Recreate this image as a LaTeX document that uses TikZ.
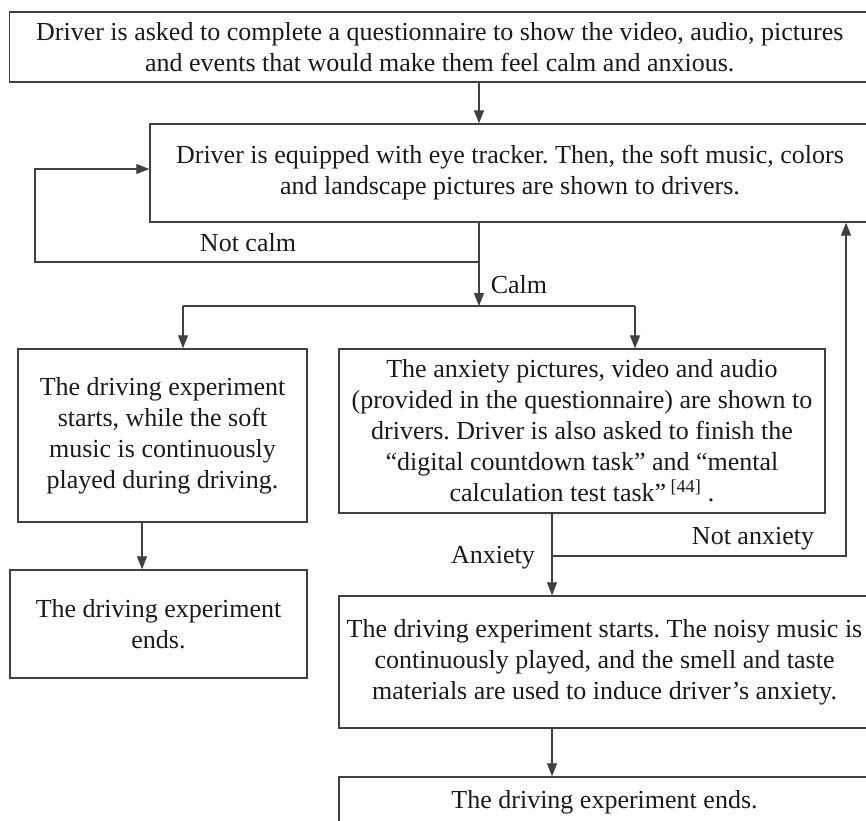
\documentclass[tikz,border=0pt]{standalone}
\usepackage{fontspec}
\setmainfont{Liberation Serif}
\usetikzlibrary{arrows.meta}
\definecolor{linec}{HTML}{404040}
\definecolor{txtc}{HTML}{1A1A1A}
\frenchspacing
\begin{document}
\begin{tikzpicture}[x=1pt,y=-1pt,
  box/.style={draw=linec, line width=1.4pt, align=center, inner sep=0pt, text=txtc, font=\fontsize{26}{31}\selectfont},
  lbl/.style={text=txtc, font=\fontsize{26}{31}\selectfont, inner sep=0pt},
  conn/.style={draw=linec, line width=1.2pt},
  arr/.style={conn, -{Triangle[length=13pt,width=10pt]}}]
\useasboundingbox (0,0) rectangle (866,820);
\clip (0,0) rectangle (866,820);

\node[box, minimum width=860.5, minimum height=70] (q) at (439.75,47)
  {Driver is asked to complete a questionnaire to show the video, audio, pictures\\and events that would make them feel calm and anxious.};
\node[box, minimum width=720, minimum height=98] (eye) at (510,173)
  {Driver is equipped with eye tracker. Then, the soft music, colors\\and landscape pictures are shown to drivers.};
\node[box, minimum width=289, minimum height=173] (soft) at (162.5,435.5)
  {The driving experiment\\starts, while the soft\\music is continuously\\played during driving.};
\node[box, minimum width=486, minimum height=164] (anx) at (582,431)
  {The anxiety pictures, video and audio\\(provided in the questionnaire) are shown to\\drivers. Driver is also asked to finish the\\“digital countdown task” and “mental\\calculation test task”\,\textsuperscript{[44]}\ .};
\node[box, minimum width=297, minimum height=108] (end1) at (158.5,624)
  {The driving experiment\\ends.};
\node[box, minimum width=531, minimum height=132] (noisy) at (604.5,662)
  {The driving experiment starts. The noisy music is\\continuously played, and the smell and taste\\materials are used to induce driver’s anxiety.};
\node[box, minimum width=531, minimum height=50] (end2) at (604.5,802)
  {The driving experiment ends.};

\coordinate (jA) at (479,262);
\coordinate (loopL) at (35,262);
\coordinate (loopT) at (35,169);
\coordinate (br) at (479,306);
\coordinate (brL) at (183,306);
\coordinate (brR) at (635,306);
\coordinate (sx) at (142,546);
\coordinate (jB) at (552,556);
\coordinate (retR) at (846,556);

\draw[arr] (q.south -| jA) -- (eye.north -| jA);
\draw[arr] (eye.south -| jA) -- (jA) -- (loopL) -- (loopT) -- (eye.west |- loopT);
\draw[arr] (jA) -- (br);
\draw[conn] (brL) -- (brR);
\draw[arr] (brL) -- (soft.north -| brL);
\draw[arr] (brR) -- (anx.north -| brR);
\draw[arr] (soft.south -| sx) -- (end1.north -| sx);
\draw[arr] (anx.south -| jB) -- (noisy.north -| jB);
\draw[arr] (jB) -- (retR) -- (eye.south -| retR);
\draw[arr] (noisy.south -| jB) -- (end2.north -| jB);

\node[lbl] (lnc) at (248,243) {Not calm};
\node[lbl] (lc) at (519,285) {Calm};
\node[lbl] (la) at (493,558) {Anxiety};
\node[lbl] (lna) at (753,539) {Not anxiety};
\end{tikzpicture}
\end{document}
